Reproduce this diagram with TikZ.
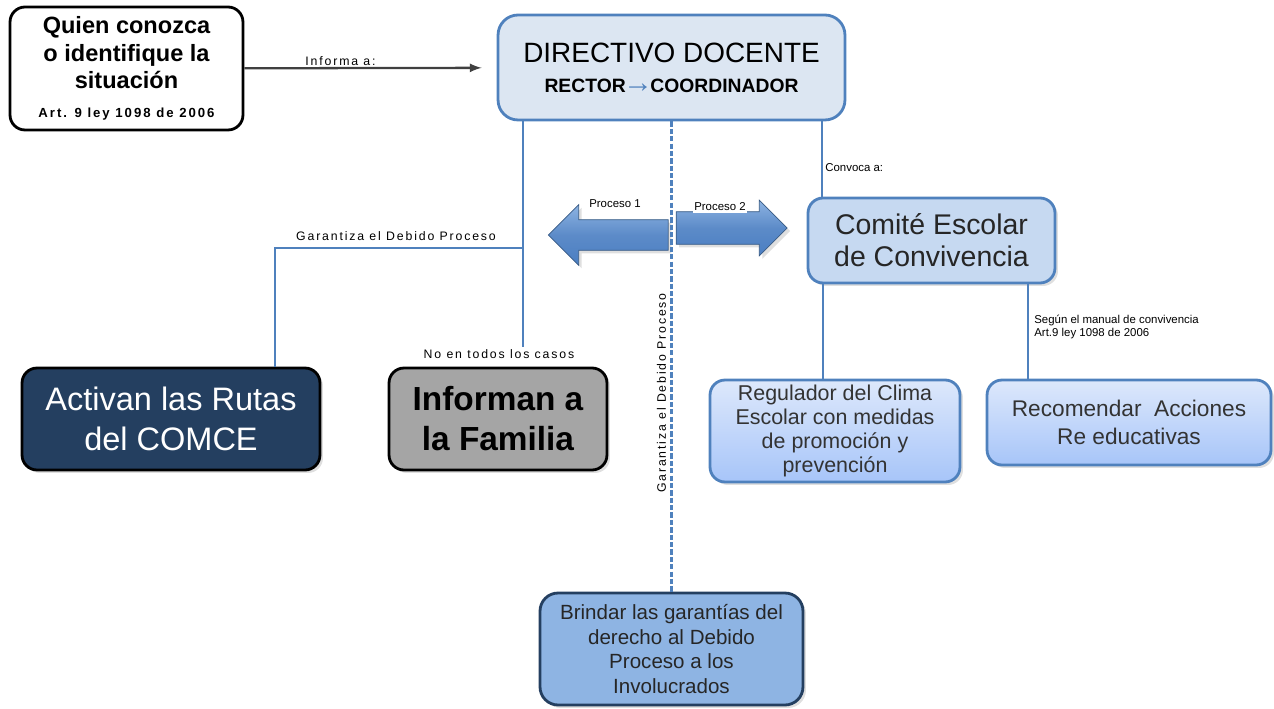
\documentclass[tikz,border=0pt]{standalone}
\usepackage{fontspec}
\setmainfont{Liberation Sans}
\newfontfamily\spaced[LetterSpace=15]{Liberation Sans}
\usetikzlibrary{shapes.arrows}
\usetikzlibrary{shadows}
\usepackage{xcolor}
\definecolor{linea}{HTML}{4F81BD}
\definecolor{dirfill}{HTML}{DCE6F2}
\definecolor{comfill}{HTML}{C6D9F1}
\definecolor{azulosc}{HTML}{243F60}
\definecolor{gris}{HTML}{A5A5A5}
\definecolor{brinfill}{HTML}{8EB4E3}
\definecolor{claro}{HTML}{DDE8FB}
\definecolor{medio}{HTML}{A7C5F9}
\definecolor{flechaA}{HTML}{4A7EC2}
\definecolor{flechaB}{HTML}{8DB3E2}

\begin{document}
\begin{tikzpicture}[x=0.02cm,y=-0.02cm,>=latex,
  caja/.style={draw, rounded corners=0.3cm, align=center, inner sep=0pt, line width=1.6pt},
  sombra/.style={drop shadow={opacity=0.25,shadow xshift=0.06cm,shadow yshift=-0.06cm}},
  conector/.style={draw=linea, line width=1.1pt},
  etiq/.style={font=\fontsize{7}{8}\selectfont\spaced, inner sep=1pt},
  mini/.style={font=\fontsize{6.5}{7.5}\selectfont, inner sep=0pt},
  flecha/.style={single arrow, draw=linea!70!black, line width=0.4pt, inner xsep=0pt,
    top color=flechaB, bottom color=flechaA, middle color=flechaA!90!white, sombra}]
  \useasboundingbox (0,0) rectangle (1274,709);

  \node[caja, minimum width=4.66cm, minimum height=2.46cm, fill=white,
    font=\fontsize{13.4}{15.6}\selectfont\bfseries] (quien) at (126.5,68.5)
    {Quien conozca\\o identifique la\\situación\\[1pt]\fontsize{7.5}{9}\selectfont\spaced Art. 9 ley 1098 de 2006};
  \node[caja, draw=linea, rounded corners=0.4cm, minimum width=6.94cm, minimum height=2.1cm, fill=dirfill,
    font=\fontsize{15.9}{19}\selectfont] (directivo) at (671.5,67.5)
    {DIRECTIVO DOCENTE\\[-2pt]\fontsize{11}{13}\selectfont\bfseries RECTOR\kern-1.5pt{\color{linea}\fontsize{17}{13}\selectfont →}\kern-1.5pt COORDINADOR};
  \node[caja, draw=linea, sombra, minimum width=4.94cm, minimum height=1.7cm, fill=comfill,
    text=black!85, font=\fontsize{16.2}{18.2}\selectfont] (comite) at (931.5,240.5)
    {Comité Escolar\\de Convivencia};
  \node[caja, sombra, minimum width=5.96cm, minimum height=2.04cm, fill=azulosc, text=white,
    font=\fontsize{18.5}{22.8}\selectfont] (activan) at (171,419)
    {Activan las Rutas\\del COMCE};
  \node[caja, sombra, minimum width=4.36cm, minimum height=2.04cm, fill=gris,
    font=\fontsize{19}{22.8}\selectfont\bfseries] (informan) at (498,419)
    {Informan a\\la Familia};
  \node[caja, draw=linea, sombra, minimum width=5cm, minimum height=2.04cm, top color=claro, bottom color=medio,
    text=black!80, font=\fontsize{12.2}{13.7}\selectfont] (regulador) at (835,431)
    {Regulador del Clima\\Escolar con medidas\\de promoción y\\prevención};
  \node[caja, draw=linea, sombra, minimum width=5.68cm, minimum height=1.7cm, top color=claro, bottom color=medio,
    text=black!80, font=\fontsize{12.9}{16}\selectfont] (recomendar) at (1129,422.5)
    {Recomendar~ Acciones\\Re educativas};
  \node[caja, draw=azulosc, sombra, rounded corners=0.36cm, minimum width=5.26cm, minimum height=2.24cm, fill=brinfill,
    text=black!85, font=\fontsize{11.7}{14}\selectfont] (brindar) at (671.5,649)
    {Brindar las garantías del\\derecho al Debido\\Proceso a los\\Involucrados};

  \node[flecha, shape border rotate=180, minimum height=2.4cm, inner ysep=0.3cm,
    single arrow head extend=0.3cm] (proc1) at (616,235) {};
  \node[flecha, minimum height=2.22cm, inner ysep=0.32cm,
    single arrow head extend=0.23cm] (proc2) at (723.5,228) {};
  \node[mini, fill=white, inner sep=1pt] (p1) at (615,204) {Proceso 1};
  \node[mini, fill=white, inner sep=1pt] (p2) at (720,207) {Proceso 2};

  \draw[->, draw=black!75, line width=1.3pt, shorten >=0.3cm] (quien) -- (directivo)
    node[etiq, midway, above, xshift=-0.6cm] (informa) {Informa a:};

  \coordinate (g) at (523,248);
  \coordinate (a) at (275,248);
  \node[etiq] (garant) at (396,236) {Garantiza el Debido Proceso};
  \node[etiq] (notodos) at (499,354) {No en todos los casos};
  \draw[conector] (directivo.south -| g) -- (notodos.north -| g);
  \draw[conector] (g) -- (a) -- (activan.north -| a);

  \draw[conector, line width=1.4pt, dash pattern=on 3pt off 1.2pt] (directivo) -- (brindar);
  \node[etiq, rotate=90, anchor=south] (garantv) at (668,393) {Garantiza el Debido Proceso};

  \coordinate (c) at (822,150);
  \draw[conector] (directivo.south -| c) -- (comite.north -| c);
  \node[mini, anchor=west] (convoca) at (825,168) {Convoca a:};

  \coordinate (r1) at (823,330);
  \coordinate (r2) at (1028,330);
  \draw[conector] (comite.south -| r1) -- (regulador.north -| r1);
  \draw[conector] (comite.south -| r2) -- (recomendar.north -| r2);
  \node[mini, anchor=west, align=left] (segun) at (1034,327) {Según el manual de convivencia\\Art.9 ley 1098 de 2006};
\end{tikzpicture}
\end{document}
